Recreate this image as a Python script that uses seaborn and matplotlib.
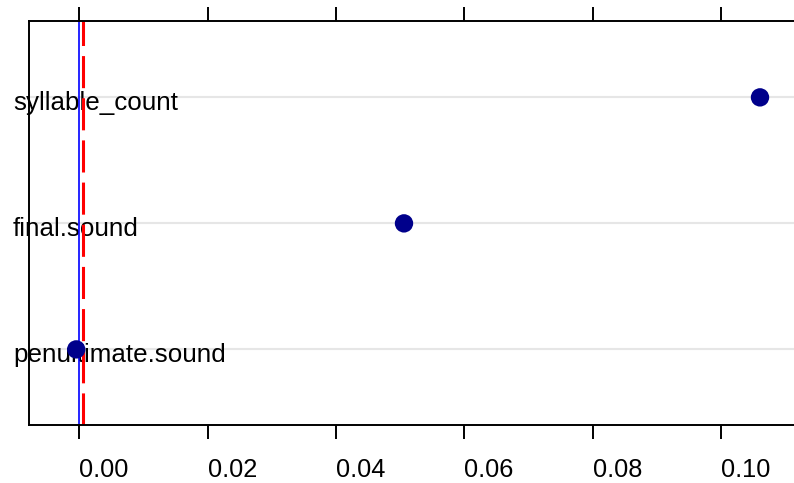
import matplotlib
matplotlib.use('Agg')
import matplotlib.pyplot as plt
import seaborn as sns
import pandas as pd
from matplotlib.transforms import blended_transform_factory

# ---- data ----
variables = ['syllable_count', 'final.sound', 'penultimate.sound']
importance = [0.1061, 0.0506, -0.0005]
xticks = [0.00, 0.02, 0.04, 0.06, 0.08, 0.10]
xtick_labels = ['0.00', '0.02', '0.04', '0.06', '0.08', '0.10']
ref_zero = 0.0
ref_dashed = 0.0006

sns.set_theme(style='white')
plt.rcParams['font.family'] = ['Liberation Sans', 'DejaVu Sans']

W, H = 794, 483
fig = plt.figure(figsize=(W / 100, H / 100), dpi=100)
ax = fig.add_axes([29 / W, 1 - 425 / H, (W - 29) / W, (425 - 21) / H])

ypos = list(range(len(variables), 0, -1))
df = pd.DataFrame({'variable': variables, 'importance': importance, 'y': ypos})

for y in ypos:
    ax.axhline(y, color='#e6e6e6', lw=1.5, zorder=0)

ax.axvline(ref_zero, color='#0000ff', lw=1.2, zorder=2)
ax.axvline(ref_dashed, color='#ff0000', lw=2.2, ls=(0, (10.5, 3.3)), zorder=2)

sns.scatterplot(data=df, x='importance', y='y', ax=ax, color='#00008B', s=175,
                edgecolor='none', linewidth=0, zorder=3, legend=False)

trans = blended_transform_factory(ax.transAxes, ax.transData)
for name, y in zip(variables, ypos):
    ax.annotate(name, xy=(0, y), xycoords=trans, xytext=(-16, -13),
                textcoords='offset pixels', ha='left', va='baseline',
                fontsize=18.7, color='black', zorder=1, annotation_clip=False)

ax.set_xlim(-0.00786, 0.1114)
ax.set_ylim(0.4, 3.606)
ax.set_xticks(xticks)
ax.set_xticklabels(xtick_labels, ha='left')
ax.set_yticks([])
ax.set_xlabel('')
ax.set_ylabel('')
ax.tick_params(axis='x', which='both', top=True, bottom=True, direction='out',
               length=10, width=1.4, color='black', labelsize=18.3, pad=13.5,
               labelcolor='black')
for side in ['left', 'top', 'bottom']:
    ax.spines[side].set_color('black')
    ax.spines[side].set_linewidth(1.4)
    ax.spines[side].set_visible(True)
ax.spines['right'].set_visible(False)
ax.set_facecolor('white')
fig.patch.set_facecolor('white')

fig.savefig('out.png', dpi=100)
